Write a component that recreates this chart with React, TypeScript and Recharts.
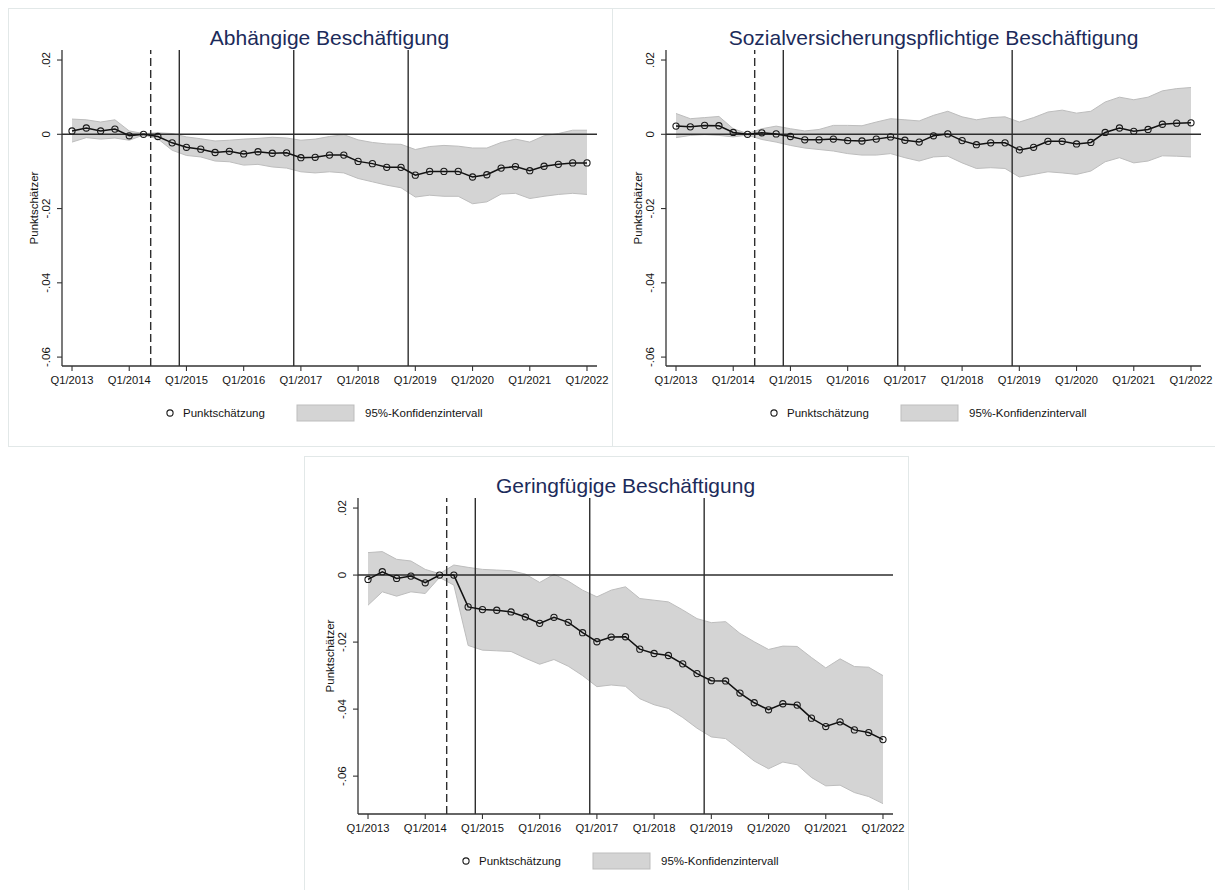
import React from 'react';
import { ComposedChart, Area, Line, XAxis, YAxis, ReferenceLine } from 'recharts';

// ---------- data ----------
const xTicks = [0, 4, 8, 12, 16, 20, 24, 28, 32, 36];
const xTickLabels = ['Q1/2013', 'Q1/2014', 'Q1/2015', 'Q1/2016', 'Q1/2017', 'Q1/2018', 'Q1/2019', 'Q1/2020', 'Q1/2021', 'Q1/2022'];
const yTicks = [0.02, 0, -0.02, -0.04, -0.06];
const yTickLabels = ['.02', '0', '-.02', '-.04', '-.06'];

const dashedLine = 5.5;
const solidLines = [7.5, 15.5, 23.5];

const abhEst = [0.0009, 0.0017, 0.0009, 0.0014, -0.0004, 0, -0.0006, -0.0023, -0.0035, -0.004, -0.0049, -0.0046, -0.0053, -0.0047, -0.0051, -0.005, -0.0063, -0.0062, -0.0056, -0.0056, -0.0073, -0.0079, -0.0089, -0.0089, -0.011, -0.01, -0.01, -0.01, -0.0115, -0.0109, -0.0091, -0.0087, -0.0098, -0.0086, -0.0081, -0.0077, -0.0077];
const abhHi = [0.0041, 0.0039, 0.0033, 0.0039, 0.0009, 0.0002, 0.0004, 0.0002, -0.0007, -0.0012, -0.0018, -0.0016, -0.0013, -0.0011, -0.0008, -0.001, -0.0016, -0.0013, -0.0006, -0.0001, -0.0015, -0.0022, -0.0026, -0.0027, -0.0041, -0.0033, -0.003, -0.0032, -0.0037, -0.0037, -0.0022, -0.0013, -0.0021, -0.0004, 0.0002, 0.0011, 0.0011];
const abhLo = [-0.0021, -0.0009, -0.0013, -0.001, -0.0016, -0.0002, -0.0012, -0.0043, -0.0057, -0.0061, -0.0072, -0.0074, -0.0083, -0.0081, -0.0088, -0.0091, -0.0101, -0.0104, -0.0101, -0.0104, -0.0119, -0.0128, -0.0137, -0.0144, -0.0169, -0.0164, -0.0167, -0.0167, -0.0187, -0.0182, -0.0161, -0.0159, -0.0173, -0.0167, -0.0162, -0.0159, -0.0162];

const svEst = [0.0022, 0.002, 0.0024, 0.0023, 0.0005, 0, 0.0004, 0.0001, -0.0006, -0.0015, -0.0015, -0.0013, -0.0017, -0.0018, -0.0013, -0.0007, -0.0016, -0.0021, -0.0004, 0.0001, -0.0017, -0.0028, -0.0023, -0.0023, -0.0042, -0.0035, -0.0019, -0.0019, -0.0026, -0.0022, 0.0005, 0.0017, 0.0008, 0.0013, 0.0027, 0.003, 0.0031];
const svHi = [0.0056, 0.0042, 0.0045, 0.0048, 0.0015, 0.0002, 0.0015, 0.0022, 0.0015, 0.0009, 0.0013, 0.0024, 0.0024, 0.0023, 0.0033, 0.0042, 0.0039, 0.0036, 0.0051, 0.0062, 0.0047, 0.0039, 0.0045, 0.0047, 0.0033, 0.0045, 0.006, 0.0065, 0.0057, 0.0062, 0.0087, 0.01, 0.0093, 0.01, 0.0117, 0.0123, 0.0126];
const svLo = [-0.0009, -0.0003, -0.0001, -0.0003, -0.0007, -0.0002, -0.0014, -0.0021, -0.003, -0.0037, -0.0041, -0.0045, -0.0052, -0.0056, -0.0056, -0.0052, -0.0063, -0.0072, -0.0061, -0.0059, -0.0077, -0.0092, -0.009, -0.0092, -0.0115, -0.0108, -0.0101, -0.0104, -0.0108, -0.0099, -0.0074, -0.0063, -0.0077, -0.0072, -0.0058, -0.0059, -0.0061];

const gfEst = [-0.0013, 0.001, -0.001, -0.0003, -0.0023, 0, 0, -0.0095, -0.0103, -0.0105, -0.011, -0.0125, -0.0144, -0.0126, -0.0141, -0.0172, -0.0199, -0.0185, -0.0184, -0.0221, -0.0234, -0.024, -0.0265, -0.0294, -0.0315, -0.0316, -0.0352, -0.0381, -0.0402, -0.0384, -0.0388, -0.0427, -0.0452, -0.0438, -0.0462, -0.047, -0.0491];
const gfHi = [0.0067, 0.007, 0.0047, 0.0042, 0.0017, 0.0004, 0.003, 0.0023, 0.0017, 0.0015, 0.0013, 0.0003, -0.0022, 0.0002, -0.0018, -0.0045, -0.0065, -0.0045, -0.0035, -0.007, -0.0075, -0.008, -0.0104, -0.013, -0.0142, -0.0139, -0.0174, -0.0199, -0.0222, -0.0212, -0.0213, -0.0246, -0.0277, -0.025, -0.0273, -0.0275, -0.03];
const gfLo = [-0.009, -0.005, -0.0063, -0.005, -0.0055, -0.0007, -0.003, -0.021, -0.0224, -0.0226, -0.0228, -0.0248, -0.0266, -0.0252, -0.0272, -0.03, -0.0333, -0.0328, -0.0332, -0.0369, -0.0387, -0.0398, -0.0425, -0.0457, -0.0483, -0.0488, -0.0521, -0.0555, -0.0578, -0.0558, -0.0566, -0.0604, -0.0629, -0.0627, -0.0649, -0.0661, -0.0682];

const titles = ['Abhängige Beschäftigung', 'Sozialversicherungspflichtige Beschäftigung', 'Geringfügige Beschäftigung'];
const yAxisTitle = 'Punktschätzer';
const legendLabels = ['Punktschätzung', '95%-Konfidenzintervall'];

// ---------- styling ----------
const FONT = '"Liberation Sans", Arial, Helvetica, sans-serif';
const PANEL_W = 605;
const PANEL_H = 439;
const AXIS = '#333';
const TEXT = '#141414';

function buildRows(est: number[], lo: number[], hi: number[]) {
  return est.map((v, i) => ({ t: i, est: v, band: [lo[i], hi[i]] }));
}

const YTick = (props: any) => {
  const { x, y, payload } = props;
  const idx = yTicks.indexOf(payload.value);
  const label = idx >= 0 ? yTickLabels[idx] : String(payload.value);
  const bx = x - 5;
  return (
    <text x={bx} y={y} transform={`rotate(-90 ${bx} ${y})`} textAnchor="middle" fontSize={11.5} fill={TEXT} fontFamily={FONT}>
      {label}
    </text>
  );
};

type PanelProps = {
  title: string;
  est: number[];
  lo: number[];
  hi: number[];
  yMin: number;
  yMax: number;
  left: number;
  top: number;
};

const Panel = ({ title, est, lo, hi, yMin, yMax, left, top }: PanelProps) => {
  const rows = buildRows(est, lo, hi);
  return (
    <div style={{ position: 'absolute', left, top, width: PANEL_W, height: PANEL_H, background: '#fff' }}>
      <div style={{ position: 'absolute', inset: 0, border: '1px solid #e2e8e8', boxSizing: 'border-box', pointerEvents: 'none' }} />
      <div
        style={{
          position: 'absolute',
          left: 321.5 - 300,
          width: 600,
          top: 17,
          textAlign: 'center',
          fontFamily: FONT,
          fontSize: 21,
          lineHeight: '26px',
          color: '#1c2b5a',
          whiteSpace: 'nowrap',
        }}
      >
        {title}
      </div>
      <div style={{ position: 'absolute', left: 0, top: 0 }}>
        <ComposedChart width={PANEL_W} height={PANEL_H} data={rows} margin={{ top: 42, right: 16, bottom: 51, left: 0 }}>
          <XAxis
            type="number"
            dataKey="t"
            domain={[-0.7, 36.7]}
            ticks={xTicks}
            interval={0}
            allowDataOverflow
            tickFormatter={(v: number) => xTickLabels[xTicks.indexOf(v)] ?? ''}
            height={30}
            tickSize={5}
            tickMargin={5}
            stroke={AXIS}
            axisLine={{ stroke: AXIS, strokeWidth: 1.3 }}
            tickLine={{ stroke: AXIS, strokeWidth: 1.1 }}
            tick={{ fontSize: 11.2, fill: TEXT, fontFamily: FONT }}
          />
          <YAxis
            type="number"
            domain={[yMin, yMax]}
            ticks={yTicks}
            interval={0}
            allowDataOverflow
            width={54}
            tickSize={5}
            tickMargin={2}
            stroke={AXIS}
            axisLine={{ stroke: AXIS, strokeWidth: 1.3 }}
            tickLine={{ stroke: AXIS, strokeWidth: 1.1 }}
            tick={<YTick />}
            label={{
              content: () => (
                <text x={30} y={200} transform="rotate(-90 30 200)" textAnchor="middle" fontSize={11.5} fill={TEXT} fontFamily={FONT}>
                  {yAxisTitle}
                </text>
              ),
            }}
          />
          <Area
            type="linear"
            dataKey="band"
            fill="#d4d4d4"
            fillOpacity={1}
            stroke="#bdbdbd"
            strokeWidth={1}
            isAnimationActive={false}
            dot={false}
            activeDot={false}
          />
          <ReferenceLine y={0} stroke="#2e2e2e" strokeWidth={1.5} />
          <ReferenceLine x={dashedLine} stroke="#2e2e2e" strokeWidth={1.4} strokeDasharray="8 4" />
          {solidLines.map((v) => (
            <ReferenceLine key={v} x={v} stroke="#2e2e2e" strokeWidth={1.4} />
          ))}
          <Line
            type="linear"
            dataKey="est"
            stroke="#111"
            strokeWidth={1.5}
            dot={{ r: 3.1, stroke: '#1a1a1a', strokeWidth: 1.1, fill: 'none' }}
            activeDot={false}
            isAnimationActive={false}
          />
        </ComposedChart>
      </div>
      <svg style={{ position: 'absolute', left: 0, top: 0 }} width={PANEL_W} height={PANEL_H} pointerEvents="none">
        <circle cx={162} cy={405} r={3.1} fill="none" stroke="#1a1a1a" strokeWidth={1.1} />
        <text x={175} y={409} fontSize={11.5} fill={TEXT} fontFamily={FONT}>
          {legendLabels[0]}
        </text>
        <rect x={289} y={397} width={57} height={16} fill="#d4d4d4" stroke="#bdbdbd" strokeWidth={1} />
        <text x={357} y={409} fontSize={11.5} fill={TEXT} fontFamily={FONT}>
          {legendLabels[1]}
        </text>
      </svg>
    </div>
  );
};

export default function App() {
  return (
    <div style={{ position: 'relative', width: 1215, height: 890, overflow: 'hidden', background: '#fff', fontFamily: FONT }}>
      <style>{'html,body{margin:0;padding:0;overflow:hidden;background:#fff;}'}</style>
      <Panel title={titles[0]} est={abhEst} lo={abhLo} hi={abhHi} yMin={-0.0624} yMax={0.0227} left={8} top={8} />
      <Panel title={titles[1]} est={svEst} lo={svLo} hi={svHi} yMin={-0.0624} yMax={0.0227} left={612} top={8} />
      <Panel title={titles[2]} est={gfEst} lo={gfLo} hi={gfHi} yMin={-0.0713} yMax={0.023} left={304} top={456} />
    </div>
  );
}
